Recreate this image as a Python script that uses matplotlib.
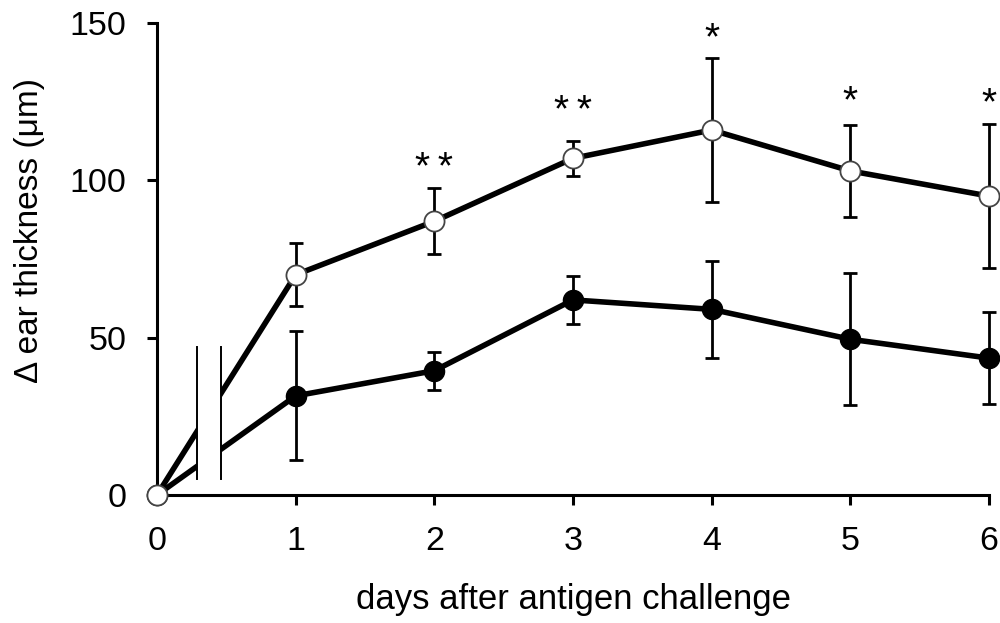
import matplotlib
matplotlib.use("Agg")
import matplotlib.pyplot as plt
from matplotlib.patches import Rectangle

plt.rcParams['font.family'] = ['Liberation Sans', 'DejaVu Sans']

# data
days = [0, 1, 2, 3, 4, 5, 6]
open_mean = [0, 70, 87, 107, 116, 103, 95]
open_err = [0, 10, 10.5, 5.5, 23, 14.5, 23]
filled_mean = [0, 31.5, 39.5, 62, 59, 49.5, 43.5]
filled_err = [0, 20.5, 6, 7.5, 15.5, 21, 14.5]
star_labels = ['', '', '*\u2009*', '*\u2009*', '*', '*', '*']
star_y = [0, 0, 100.5, 118.5, 141.5, 121.5, 121]

fig = plt.figure(figsize=(10, 6.23), dpi=100)
ax = fig.add_axes([0.157, 0.2055, 0.832, 0.7575])

# filled series
ax.errorbar(days[1:], filled_mean[1:], yerr=filled_err[1:], fmt='none',
            ecolor='black', elinewidth=2, capsize=4.7, capthick=2,
            clip_on=False, zorder=3)
ax.plot(days, filled_mean, color='black', lw=4, marker='o', ms=14.5,
        mfc='black', mec='black', clip_on=False, zorder=4)

# open series
ax.errorbar(days[1:], open_mean[1:], yerr=open_err[1:], fmt='none',
            ecolor='black', elinewidth=2, capsize=4.7, capthick=2,
            clip_on=False, zorder=3)
ax.plot(days, open_mean, color='black', lw=4, zorder=4, clip_on=False)
ax.plot(days, open_mean, ls='none', marker='o', ms=14.5, mfc='white',
        mec='#444444', mew=1.3, clip_on=False, zorder=6)

# axis break
ax.add_patch(Rectangle((0.29, 5), 0.17, 42, facecolor='white',
                       edgecolor='none', zorder=5))
ax.plot([0.29, 0.29], [5, 47], color='black', lw=1.4, zorder=5)
ax.plot([0.46, 0.46], [5, 47], color='black', lw=1.4, zorder=5)

for d, lab, y in zip(days, star_labels, star_y):
    if lab:
        ax.text(d, y, lab, ha='center', va='baseline', fontsize=28,
                clip_on=False)

ax.set_xlim(0, 6)
ax.set_ylim(0, 150)
ax.set_xticks(days)
ax.set_yticks([0, 50, 100, 150])
ax.spines['top'].set_visible(False)
ax.spines['right'].set_visible(False)
ax.spines['left'].set_linewidth(2.2)
ax.spines['bottom'].set_linewidth(2.2)
ax.tick_params(direction='out', length=7, width=2.2, labelsize=24.5, pad=15)

ax.set_xlabel('days after antigen challenge', fontsize=25)
ax.xaxis.set_label_coords(0.5, -0.222)
ax.xaxis.label.set_va('center')
ax.set_ylabel('Δ ear thickness (μm)', fontsize=24)
ax.yaxis.set_label_coords(-0.153, 0.56)
ax.yaxis.label.set_va('center')

fig.savefig('out.png', dpi=100)
